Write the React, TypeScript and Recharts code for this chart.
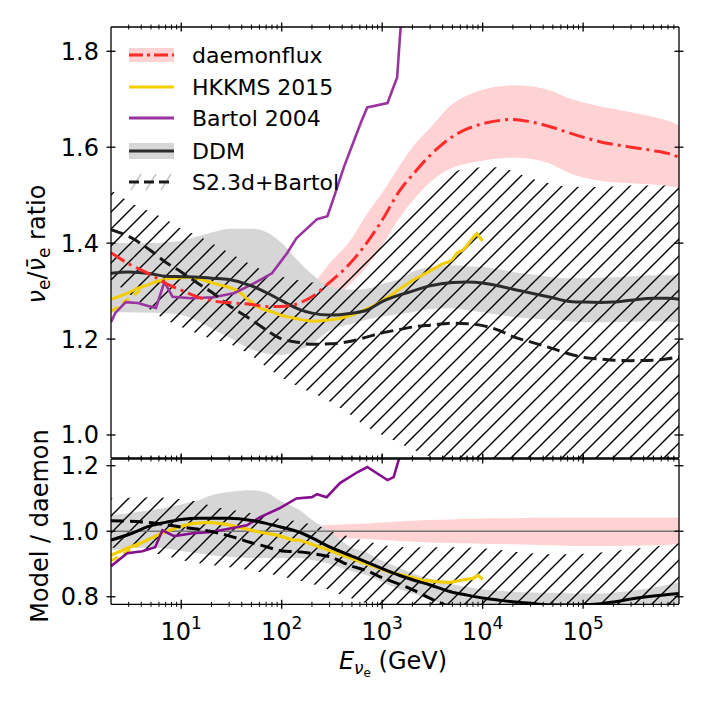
import React from "react";
import { ComposedChart, Line, Area, XAxis, YAxis, ReferenceLine } from "recharts";

// common energy grid (GeV) for the smooth curves and bands
const energy = [2, 3, 5, 7, 10, 15, 20, 30, 50, 70, 100, 150, 200, 300, 500, 700, 1000, 1500, 2000, 3000, 5000, 7000, 1e4, 1.5e4, 2e4, 3e4, 5e4, 7e4, 1e5, 1.5e5, 2e5, 3e5, 5e5, 7e5, 9e5];

// top panel: nu_e / anti-nu_e ratio
const daemonflux = [1.38, 1.357, 1.334, 1.316, 1.302, 1.287, 1.28, 1.276, 1.272, 1.268, 1.268, 1.275, 1.288, 1.318, 1.362, 1.40, 1.448, 1.51, 1.542, 1.583, 1.622, 1.638, 1.649, 1.656, 1.658, 1.653, 1.641, 1.631, 1.621, 1.611, 1.606, 1.6, 1.593, 1.587, 1.579];
const daemonfluxLo = [1.368, 1.345, 1.322, 1.304, 1.29, 1.274, 1.267, 1.262, 1.257, 1.252, 1.25, 1.255, 1.263, 1.28, 1.318, 1.35, 1.395, 1.454, 1.488, 1.527, 1.557, 1.566, 1.572, 1.577, 1.578, 1.576, 1.563, 1.548, 1.537, 1.53, 1.527, 1.525, 1.522, 1.519, 1.515];
const daemonfluxHi = [1.392, 1.369, 1.346, 1.328, 1.314, 1.3, 1.293, 1.29, 1.287, 1.284, 1.286, 1.295, 1.312, 1.358, 1.41, 1.46, 1.505, 1.562, 1.6, 1.64, 1.69, 1.708, 1.72, 1.727, 1.729, 1.727, 1.716, 1.703, 1.693, 1.685, 1.68, 1.673, 1.663, 1.655, 1.646];

const ddm = [1.337, 1.34, 1.336, 1.331, 1.33, 1.329, 1.327, 1.324, 1.311, 1.297, 1.28, 1.262, 1.254, 1.25, 1.254, 1.26, 1.278, 1.292, 1.3, 1.311, 1.318, 1.319, 1.317, 1.31, 1.304, 1.296, 1.286, 1.279, 1.277, 1.276, 1.277, 1.281, 1.285, 1.285, 1.283];
const ddmLo = [1.256, 1.256, 1.255, 1.254, 1.25, 1.236, 1.222, 1.203, 1.178, 1.17, 1.167, 1.177, 1.19, 1.218, 1.232, 1.24, 1.247, 1.252, 1.256, 1.262, 1.264, 1.26, 1.256, 1.25, 1.246, 1.243, 1.24, 1.237, 1.235, 1.235, 1.235, 1.236, 1.237, 1.236, 1.235];
const ddmHi = [1.4, 1.4, 1.4, 1.402, 1.405, 1.415, 1.422, 1.43, 1.43, 1.423, 1.4, 1.36, 1.335, 1.31, 1.303, 1.305, 1.315, 1.325, 1.34, 1.35, 1.354, 1.352, 1.35, 1.345, 1.34, 1.335, 1.329, 1.327, 1.327, 1.328, 1.329, 1.331, 1.333, 1.333, 1.333];

const s23 = [1.428, 1.414, 1.384, 1.36, 1.34, 1.315, 1.298, 1.27, 1.24, 1.219, 1.2, 1.193, 1.189, 1.19, 1.196, 1.204, 1.213, 1.22, 1.225, 1.229, 1.233, 1.232, 1.228, 1.217, 1.205, 1.194, 1.18, 1.17, 1.162, 1.158, 1.156, 1.155, 1.156, 1.159, 1.163];
const s23Lo = [1.323, 1.295, 1.26, 1.24, 1.225, 1.21, 1.2, 1.19, 1.165, 1.142, 1.12, 1.1, 1.088, 1.07, 1.04, 1.017, 1.0, 0.983, 0.97, 0.955, 0.94, 0.93, 0.92, 0.91, 0.9, 0.89, 0.88, 0.87, 0.86, 0.86, 0.86, 0.86, 0.86, 0.86, 0.86];
const s23Hi = [1.51, 1.487, 1.465, 1.45, 1.43, 1.415, 1.4, 1.38, 1.355, 1.34, 1.33, 1.322, 1.318, 1.318, 1.34, 1.37, 1.41, 1.45, 1.485, 1.52, 1.548, 1.555, 1.558, 1.558, 1.55, 1.535, 1.523, 1.518, 1.517, 1.517, 1.518, 1.52, 1.52, 1.52, 1.52];

const hkkmsE = [2, 2.5, 3, 3.7, 4.5, 5.5, 7, 8, 10, 12, 15, 17, 20, 25, 30, 37, 45, 55, 65, 80, 100, 130, 160, 200, 250, 300, 380, 500, 650, 800, 1000, 1200, 1400, 1700, 2000, 2500, 3000, 3500, 4000, 4500, 5000, 5600, 6300, 7000, 8100, 8800, 9500, 1e4];
const hkkms = [1.283, 1.29, 1.297, 1.306, 1.312, 1.319, 1.325, 1.327, 1.328, 1.329, 1.326, 1.322, 1.318, 1.312, 1.308, 1.3, 1.285, 1.27, 1.262, 1.257, 1.249, 1.244, 1.24, 1.237, 1.238, 1.24, 1.243, 1.25, 1.26, 1.268, 1.28, 1.29, 1.3, 1.312, 1.322, 1.333, 1.342, 1.35, 1.357, 1.36, 1.366, 1.38, 1.385, 1.395, 1.413, 1.42, 1.41, 1.405];
const hkkmsLowE = [2, 2.3, 2.8, 3.5, 4.2];
const hkkmsLow = [1.258, 1.266, 1.28, 1.294, 1.306];

const bartolE = [2, 2.2, 2.8, 3.7, 4.7, 5.6, 6.8, 8.2, 12.6, 21, 34, 54, 80, 113, 140, 225, 285, 330, 415, 610, 710, 1130, 1410, 1510, 1650];
const bartol = [1.235, 1.254, 1.277, 1.275, 1.269, 1.265, 1.319, 1.288, 1.285, 1.287, 1.296, 1.317, 1.337, 1.379, 1.41, 1.45, 1.456, 1.495, 1.558, 1.65, 1.683, 1.692, 1.746, 1.837, 1.92];

// bottom panel: model / daemonflux
const daemonRatioLo = [0.99, 0.99, 0.99, 0.99, 0.99, 0.99, 0.989, 0.988, 0.987, 0.986, 0.985, 0.984, 0.983, 0.981, 0.978, 0.976, 0.973, 0.97, 0.968, 0.966, 0.964, 0.963, 0.962, 0.961, 0.96, 0.959, 0.957, 0.956, 0.955, 0.955, 0.955, 0.956, 0.957, 0.958, 0.96];
const daemonRatioHi = [1.01, 1.01, 1.01, 1.01, 1.01, 1.011, 1.011, 1.012, 1.013, 1.014, 1.015, 1.016, 1.017, 1.019, 1.022, 1.024, 1.027, 1.03, 1.032, 1.034, 1.036, 1.038, 1.039, 1.04, 1.04, 1.041, 1.041, 1.042, 1.042, 1.042, 1.042, 1.042, 1.042, 1.042, 1.042];

const ddmRatio = [0.973, 0.99, 1.017, 1.027, 1.036, 1.04, 1.04, 1.04, 1.033, 1.024, 1.012, 0.997, 0.98, 0.952, 0.924, 0.906, 0.886, 0.865, 0.852, 0.836, 0.814, 0.805, 0.796, 0.789, 0.785, 0.78, 0.775, 0.775, 0.776, 0.779, 0.784, 0.793, 0.802, 0.807, 0.81];
const ddmRatioLo = [0.942, 0.948, 0.95, 0.947, 0.94, 0.932, 0.927, 0.922, 0.918, 0.918, 0.918, 0.918, 0.912, 0.9, 0.878, 0.866, 0.845, 0.822, 0.81, 0.792, 0.77, 0.76, 0.75, 0.745, 0.74, 0.735, 0.73, 0.73, 0.73, 0.732, 0.735, 0.74, 0.745, 0.75, 0.755];
const ddmRatioHi = [1.049, 1.055, 1.065, 1.072, 1.082, 1.095, 1.11, 1.12, 1.125, 1.118, 1.09, 1.065, 1.035, 1.0, 0.95, 0.935, 0.91, 0.888, 0.872, 0.855, 0.838, 0.83, 0.823, 0.818, 0.815, 0.813, 0.812, 0.811, 0.81, 0.81, 0.812, 0.818, 0.828, 0.837, 0.844];

const s23RatioLo = [0.95, 0.945, 0.935, 0.925, 0.912, 0.902, 0.897, 0.89, 0.88, 0.872, 0.862, 0.85, 0.84, 0.82, 0.795, 0.78, 0.765, 0.75, 0.74, 0.73, 0.72, 0.71, 0.7, 0.7, 0.7, 0.7, 0.7, 0.7, 0.7, 0.7, 0.7, 0.7, 0.7, 0.7, 0.7];
const s23RatioHi = [1.1, 1.102, 1.104, 1.102, 1.098, 1.089, 1.077, 1.066, 1.055, 1.047, 1.036, 1.03, 1.02, 1.007, 0.98, 0.97, 0.958, 0.952, 0.951, 0.951, 0.951, 0.95, 0.948, 0.943, 0.938, 0.933, 0.93, 0.93, 0.931, 0.935, 0.94, 0.946, 0.953, 0.958, 0.963];
const s23RatioE = [2, 3, 5, 7, 10, 15, 20, 30, 50, 70, 100, 150, 200, 300, 500, 700, 1000, 1500, 2000, 3000, 4000, 5000];
const s23Ratio = [1.032, 1.031, 1.026, 1.02, 1.013, 1.006, 0.999, 0.986, 0.965, 0.953, 0.94, 0.937, 0.932, 0.922, 0.893, 0.88, 0.858, 0.838, 0.822, 0.795, 0.778, 0.765];

const hkkmsRatioE = [2, 2.9, 4.1, 6.1, 9.1, 13.2, 19.4, 28.5, 41.5, 61, 90, 130, 150, 260, 565, 1200, 2580, 3500, 4700, 5600, 6500, 8000, 9000, 1e4];
const hkkmsRatio = [0.927, 0.948, 0.966, 0.991, 1.012, 1.024, 1.027, 1.021, 1.009, 0.997, 0.988, 0.973, 0.973, 0.948, 0.911, 0.875, 0.85, 0.846, 0.844, 0.848, 0.852, 0.856, 0.866, 0.853];
const hkkmsLowRatioE = [2, 2.5, 3, 4];
const hkkmsLowRatio = [0.91, 0.925, 0.94, 0.965];

const bartolRatioE = [2, 2.9, 4.1, 5.5, 6.5, 8.5, 13, 19, 28, 45, 61, 95, 140, 200, 225, 280, 380, 565, 710, 1130, 1300, 1500, 1600];
const bartolRatio = [0.893, 0.933, 0.939, 0.951, 1.003, 0.985, 0.994, 0.997, 1.006, 1.018, 1.043, 1.07, 1.1, 1.104, 1.113, 1.104, 1.147, 1.18, 1.196, 1.156, 1.165, 1.23, 1.28];

// axis ticks
const xMajor = [10, 100, 1000, 10000, 100000];
const xMinor: number[] = [];
[1, 10, 100, 1000, 10000, 100000].forEach((d) => {
  for (let m = 2; m <= 9; m++) {
    const v = m * d;
    if (v > 2 && v < 9e5) xMinor.push(v);
  }
});
const xTicks = [...xMinor, ...xMajor].sort((a, b) => a - b);
const topYTicks = [1.0, 1.2, 1.4, 1.6, 1.8];
const bottomYTicks = [0.8, 1.0, 1.2];
const legendLabels = ["daemonflux", "HKKMS 2015", "Bartol 2004", "DDM", "S2.3d+Bartol"];

const FONT = "'DejaVu Sans', sans-serif";
const FS = 24;
const RED = "#ff2b2b";
const PINK = "#ffd3d3";
const GOLD = "#f2cd00";
const GREY = "#d6d6d6";

const pts = (xs: number[], ys: number[]) => xs.map((e, i) => ({ e, v: ys[i] }));
const band = (xs: number[], lo: number[], hi: number[]) => xs.map((e, i) => ({ e, v: [lo[i], hi[i]] }));

const XTick = (props: any) => {
  const { x, y, payload, showLabel } = props;
  const v = payload.value;
  const major = xMajor.includes(v);
  const h = major ? 4.5 : 2.5;
  return (
    <g>
      <line x1={x} x2={x} y1={y - h} y2={y + h} stroke="#000" strokeWidth={major ? 1.3 : 1} />
      {showLabel && major ? (
        <text x={x} y={y + 36} textAnchor="middle" fontFamily={FONT} fontSize={FS} fill="#000">
          10
          <tspan dy={-11} fontSize={17}>
            {Math.round(Math.log10(v))}
          </tspan>
        </text>
      ) : null}
    </g>
  );
};

const YTick = (props: any) => {
  const { x, y, payload, showLabel } = props;
  return (
    <g>
      <line x1={x - 4.5} x2={x + 4.5} y1={y} y2={y} stroke="#000" strokeWidth={1.3} />
      {showLabel ? (
        <text x={x - 12} y={y + 8.5} textAnchor="end" fontFamily={FONT} fontSize={FS} fill="#000">
          {Number(payload.value).toFixed(1)}
        </text>
      ) : null}
    </g>
  );
};

const axisLine = { stroke: "#000", strokeWidth: 1.3 };

const xAxes = (bottomHeight: number, labels: boolean) => [
  <XAxis
    key="xb"
    dataKey="e"
    type="number"
    scale="log"
    domain={[2, 9e5]}
    allowDataOverflow
    ticks={xTicks}
    interval={0}
    height={bottomHeight}
    tickSize={0}
    tickMargin={0}
    tickLine={false}
    axisLine={axisLine}
    tick={(p: any) => <XTick {...p} showLabel={labels} />}
  />,
  <XAxis
    key="xt"
    xAxisId="top"
    orientation="top"
    dataKey="e"
    type="number"
    scale="log"
    domain={[2, 9e5]}
    allowDataOverflow
    ticks={xTicks}
    interval={0}
    height={1}
    tickSize={0}
    tickMargin={0}
    tickLine={false}
    axisLine={axisLine}
    tick={(p: any) => <XTick {...p} showLabel={false} />}
  />,
];

const yAxes = (domain: number[], ticks: number[]) => [
  <YAxis
    key="yl"
    type="number"
    domain={domain}
    allowDataOverflow
    ticks={ticks}
    interval={0}
    width={60}
    tickSize={0}
    tickMargin={0}
    tickLine={false}
    axisLine={axisLine}
    tick={(p: any) => <YTick {...p} showLabel />}
  />,
  <YAxis
    key="yr"
    yAxisId="right"
    orientation="right"
    type="number"
    domain={domain}
    allowDataOverflow
    ticks={ticks}
    interval={0}
    width={1}
    tickSize={0}
    tickMargin={0}
    tickLine={false}
    axisLine={axisLine}
    tick={(p: any) => <YTick {...p} showLabel={false} />}
  />,
];

const hatch = (id: string) => (
  <defs>
    <pattern id={id} patternUnits="userSpaceOnUse" width={17} height={17}>
      <path d="M-2,2 L2,-2 M0,17 L17,0 M15,19 L19,15" stroke="#000" strokeWidth={1.4} />
    </pattern>
  </defs>
);

const TopPanel = () => (
  <ComposedChart width={706} height={459} margin={{ top: 26, right: 26, bottom: 0, left: 51 }}>
    {hatch("hatchTop")}
    {xAxes(1, false)}
    {yAxes([0.952, 1.8506], topYTicks)}
    <Area data={band(energy, daemonfluxLo, daemonfluxHi)} dataKey="v" type="monotone" stroke="none" fill={PINK} fillOpacity={1} isAnimationActive={false} />
    <Area data={band(energy, ddmLo, ddmHi)} dataKey="v" type="monotone" stroke="none" fill={GREY} fillOpacity={1} isAnimationActive={false} />
    <Area data={band(energy, s23Lo, s23Hi)} dataKey="v" type="monotone" stroke="none" fill="url(#hatchTop)" fillOpacity={1} isAnimationActive={false} />
    <Line data={pts(hkkmsLowE, hkkmsLow)} dataKey="v" type="linear" stroke={GOLD} strokeWidth={3} strokeDasharray="8 6" dot={false} activeDot={false} isAnimationActive={false} />
    <Line data={pts(hkkmsE, hkkms)} dataKey="v" type="linear" stroke={GOLD} strokeWidth={3} dot={false} activeDot={false} isAnimationActive={false} />
    <Line data={pts(bartolE, bartol)} dataKey="v" type="linear" stroke="#9a34a0" strokeWidth={2.6} dot={false} activeDot={false} isAnimationActive={false} />
    <Line data={pts(energy, ddm)} dataKey="v" type="monotone" stroke="#2b2b2b" strokeWidth={3} dot={false} activeDot={false} isAnimationActive={false} />
    <Line data={pts(energy, s23)} dataKey="v" type="monotone" stroke="#1a1a1a" strokeWidth={3} strokeDasharray="13 6" dot={false} activeDot={false} isAnimationActive={false} />
    <Line data={pts(energy, daemonflux)} dataKey="v" type="monotone" stroke={RED} strokeWidth={3} strokeDasharray="16 5 3 5" dot={false} activeDot={false} isAnimationActive={false} />
  </ComposedChart>
);

const BottomPanel = () => (
  <ComposedChart width={706} height={266} margin={{ top: 18, right: 26, bottom: 0, left: 51 }}>
    {hatch("hatchBottom")}
    {xAxes(101.7, true)}
    {yAxes([0.777, 1.2205], bottomYTicks)}
    <Area data={band(energy, daemonRatioLo, daemonRatioHi)} dataKey="v" type="monotone" stroke="none" fill={PINK} fillOpacity={1} isAnimationActive={false} />
    <Area data={band(energy, ddmRatioLo, ddmRatioHi)} dataKey="v" type="monotone" stroke="none" fill={GREY} fillOpacity={1} isAnimationActive={false} />
    <Area data={band(energy, s23RatioLo, s23RatioHi)} dataKey="v" type="monotone" stroke="none" fill="url(#hatchBottom)" fillOpacity={1} isAnimationActive={false} />
    <ReferenceLine y={1} stroke="#777" strokeWidth={1.6} />
    <Line data={pts(hkkmsLowRatioE, hkkmsLowRatio)} dataKey="v" type="linear" stroke={GOLD} strokeWidth={3} strokeDasharray="8 6" dot={false} activeDot={false} isAnimationActive={false} />
    <Line data={pts(hkkmsRatioE, hkkmsRatio)} dataKey="v" type="linear" stroke={GOLD} strokeWidth={3.2} dot={false} activeDot={false} isAnimationActive={false} />
    <Line data={pts(bartolRatioE, bartolRatio)} dataKey="v" type="linear" stroke="#850f8c" strokeWidth={2.6} dot={false} activeDot={false} isAnimationActive={false} />
    <Line data={pts(energy, ddmRatio)} dataKey="v" type="monotone" stroke="#000" strokeWidth={3} dot={false} activeDot={false} isAnimationActive={false} />
    <Line data={pts(s23RatioE, s23Ratio)} dataKey="v" type="monotone" stroke="#000" strokeWidth={3} strokeDasharray="13 6" dot={false} activeDot={false} isAnimationActive={false} />
  </ComposedChart>
);

const legendRows = [55, 87, 118, 151, 182];

const Overlay = () => (
  <svg width={706} height={706} style={{ position: "absolute", left: 0, top: 0, pointerEvents: "none" }}>
    {/* legend handles */}
    <rect x={129} y={legendRows[0] - 7} width={45} height={14} fill={PINK} />
    <line x1={129} x2={174} y1={legendRows[0]} y2={legendRows[0]} stroke={RED} strokeWidth={3} strokeDasharray="14 4 3 4" />
    <line x1={129} x2={174} y1={legendRows[1]} y2={legendRows[1]} stroke={GOLD} strokeWidth={3} />
    <line x1={129} x2={174} y1={legendRows[2]} y2={legendRows[2]} stroke="#9a34a0" strokeWidth={3} />
    <rect x={129} y={legendRows[3] - 8} width={45} height={16} fill={GREY} />
    <line x1={129} x2={174} y1={legendRows[3]} y2={legendRows[3]} stroke="#2b2b2b" strokeWidth={3} />
    <path
      d={`M131,${legendRows[4] + 8} l10,-16 M146,${legendRows[4] + 8} l10,-16 M161,${legendRows[4] + 8} l10,-16`}
      stroke="#c8c8c8"
      strokeWidth={1.6}
    />
    <line x1={129} x2={174} y1={legendRows[4]} y2={legendRows[4]} stroke="#1a1a1a" strokeWidth={3} strokeDasharray="10 5" />
    {legendLabels.map((t, i) => (
      <text key={t} x={192} y={legendRows[i] + 8} fontFamily={FONT} fontSize={22} fill="#000">
        {t}
      </text>
    ))}
    {/* axis labels */}
    <text x={45} y={244} transform="rotate(-90 45 244)" textAnchor="middle" fontFamily={FONT} fontSize={FS} fill="#000">
      <tspan fontStyle="italic">ν</tspan>
      <tspan fontSize={17} dy={5}>e</tspan>
      <tspan dy={-5}>/</tspan>
      <tspan fontStyle="italic">ν̄</tspan>
      <tspan fontSize={17} dy={5}>e</tspan>
      <tspan dy={-5}> ratio</tspan>
    </text>
    <text x={48} y={526} transform="rotate(-90 48 526)" textAnchor="middle" fontFamily={FONT} fontSize={FS} fill="#000">
      Model / daemon
    </text>
    <text x={393} y={669} textAnchor="middle" fontFamily={FONT} fontSize={FS} fill="#000">
      <tspan fontStyle="italic">E</tspan>
      <tspan fontSize={17} dy={5} fontStyle="italic">ν</tspan>
      <tspan fontSize={12} dy={3}>e</tspan>
      <tspan dy={-8}> (GeV)</tspan>
    </text>
  </svg>
);

export default function App() {
  return (
    <div style={{ position: "absolute", left: 0, top: 0, width: 706, height: 706, background: "#fff" }}>
      <div style={{ position: "absolute", left: 0, top: 0 }}>
        <TopPanel />
      </div>
      <div style={{ position: "absolute", left: 0, top: 440 }}>
        <BottomPanel />
      </div>
      <Overlay />
    </div>
  );
}
